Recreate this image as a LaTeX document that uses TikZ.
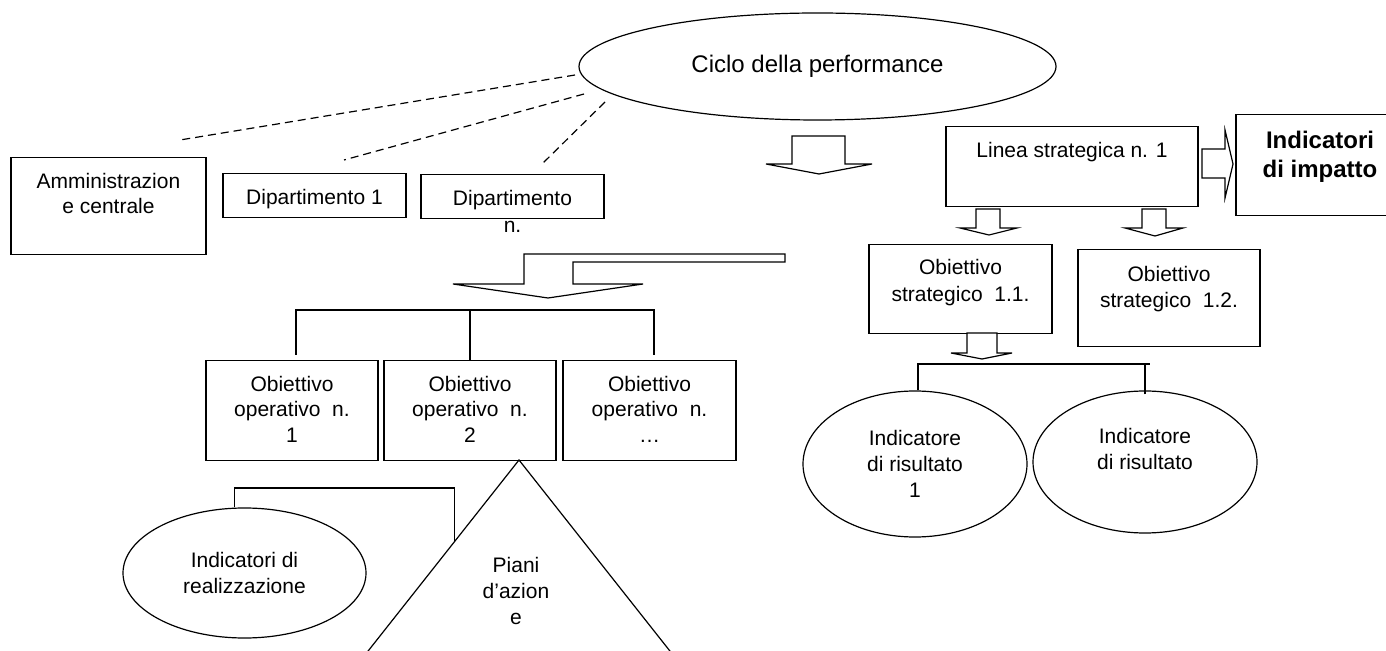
\documentclass[tikz,border=0pt]{standalone}
\usepackage{fontspec}
\setmainfont{Liberation Sans}
\usetikzlibrary{shapes.geometric}

\begin{document}
\begin{tikzpicture}[x=0.5pt, y=-0.5pt,
    font=\fontsize{10.5pt}{13pt}\selectfont,
    box/.style ={draw, line width=0.65pt, inner sep=0pt, align=center, anchor=north, text height=15.25pt},
    oval/.style ={ellipse, draw, line width=0.6pt, inner sep=0pt, align=center},
    conn/.style ={line width=0.6pt},
    dashconn/.style ={line width=0.6pt, dash pattern=on 4pt off 2.5pt},
    blockarrow/.style ={draw, fill=white, line width=0.6pt, line join=miter}]
   \useasboundingbox (0,0) rectangle (1386,651);
   \clip (0,0) rectangle (1386,651);
   % top: cycle and structures
   \node[oval, minimum width=238.5pt, minimum height=53.5pt, font=\fontsize{12pt}{14pt}\selectfont] (ciclo) at (817.5,66.5) {Ciclo della performance};
   \node[box, minimum width=97.5pt, text height=27.75pt, text depth=20.75pt, font=\fontsize{10.5pt}{12.5pt}\selectfont] (amm) at (108.5,157) {Amministrazion\\e centrale};
   \node[box, minimum width=91.5pt, text depth=6.75pt] (dip1) at (314.5,173) {Dipartimento 1};
   \node[box, minimum width=91.5pt, text depth=6.75pt,
         label={[anchor=base, label distance=6.75pt, inner sep=0pt]below:n.}] (dipn) at (512.5,174) {Dipartimento};
   \coordinate (c1) at (575,75);  \coordinate (a1) at (180,140);
   \coordinate (c2) at (584,94);  \coordinate (a2) at (344,160);
   \coordinate (c3) at (605,102); \coordinate (a3) at (541,165);
   \draw[dashconn] (c1) -- (a1);
   \draw[dashconn] (c2) -- (a2);
   \draw[dashconn] (c3) -- (a3);
   \draw[blockarrow] (792,136) -- (845,136) -- (845,164) -- (872,164) -- (819,174) -- (766,164) -- (792,164) -- cycle;
   % strategic branch
   \node[box, minimum width=126pt, text depth=24.75pt] (lin) at (1072,126) {Linea strategica n. 1};
   \node[box, minimum width=84pt, text height=31.3pt, text depth=19.2pt, font=\bfseries\fontsize{12pt}{14.5pt}\selectfont] (imp) at (1320,114) {Indicatori\\di impatto};
   \draw[blockarrow] (1202,149) -- (1225,149) -- (1225,130) -- (1233,164) -- (1225,198) -- (1225,178) -- (1202,178) -- cycle;
   \node[box, minimum width=91.5pt, text height=28.25pt, text depth=16.25pt, font=\fontsize{10.5pt}{13.5pt}\selectfont] (os1) at (960.5,244) {Obiettivo\\strategico\ \ 1.1.};
   \node[box, minimum width=91pt, text height=28.75pt, text depth=19.75pt] (os2) at (1169,249) {Obiettivo\\strategico\ \ 1.2.};
   \draw[blockarrow] (976,209) -- (1000,209) -- (1000,228) -- (1017,228) -- (989,235) -- (960,228) -- (976,228) -- cycle;
   \draw[blockarrow] (1142,209) -- (1166,209) -- (1166,228) -- (1183,228) -- (1155,236) -- (1125,228) -- (1142,228) -- cycle;
   \draw[blockarrow] (967,333) -- (997,333) -- (997,353) -- (1012,353) -- (982,359) -- (951,353) -- (967,353) -- cycle;
   \node[oval, minimum width=112pt, minimum height=73pt] (ris1) at (915,464) {Indicatore\\di risultato\\1};
   \node[oval, minimum width=112pt, minimum height=71pt] (ris2) at (1145,462) {Indicatore\\di risultato\\\phantom{1}};
   \coordinate (sh) at (1150,364);
   \draw[conn] ([xshift=1.5pt]ris1.north) |- (sh);
   \draw[conn] ([yshift=-2pt]ris2.north) -- (ris2.north |- sh);
   % operational branch
   \draw[blockarrow] (785,254) -- (524,254) -- (524,284) -- (453,284) -- (548,298) -- (643,284) -- (573,284) -- (573,262) -- (785,262) -- cycle;
   \node[box, minimum width=86pt, text height=40.75pt, text depth=9.25pt, font=\fontsize{10.5pt}{12.75pt}\selectfont] (op1) at (292,360) {Obiettivo\\operativo\ \ n.\\1};
   \node[box, minimum width=86pt, text height=40.75pt, text depth=9.25pt, font=\fontsize{10.5pt}{12.75pt}\selectfont] (op2) at (470,360) {Obiettivo\\operativo\ \ n.\\2};
   \node[box, minimum width=86.5pt, text height=40.75pt, text depth=9.25pt, font=\fontsize{10.5pt}{12.75pt}\selectfont] (op3) at (649.5,360) {Obiettivo\\operativo\ \ n.\\…};
   \coordinate (ol) at (296,355);
   \coordinate (ot) at (654,310);
   \coordinate (or) at (654,355);
   \draw[conn] (ol) |- (ot) -- (or);
   \draw[conn] (op2.north) -- (op2.north |- ot);
   \coordinate (apex) at (519,460);
   \coordinate (tl) at (361,660);
   \coordinate (tr) at (677,660);
   \draw[conn] (tl) -- (apex) -- (tr);
   \node[align=center, inner sep=0pt] (piani) at (516,591) {Piani\\d’azion\\e};
   \node[oval, minimum width=121.5pt, minimum height=65pt] (real) at (244.5,573) {Indicatori di\\realizzazione};
   \coordinate (rr) at (454.2,542);
   \draw[conn] ([xshift=-5pt]real.north) |- (rr |- 0,488) -- (rr);
 \end{tikzpicture}
\end{document}
